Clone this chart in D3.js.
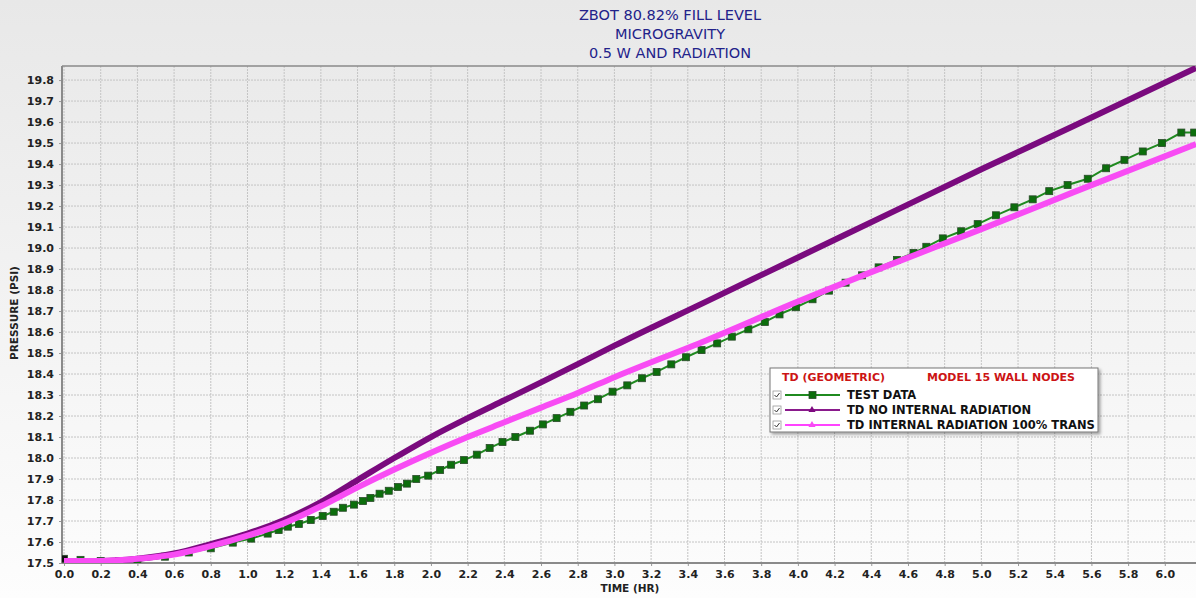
<!DOCTYPE html>
<html>
<head>
	<title>ZBOT pressure</title>
	<script type="text/javascript" src="https://cdnjs.cloudflare.com/ajax/libs/d3/7.8.5/d3.min.js"></script>
	<style>
		body { margin: 0; overflow: hidden; }
		text { font-family: "DejaVu Sans", Verdana, sans-serif; }
	</style>
</head>
<body>
	<svg id="chart" width="1196" height="598"></svg>
	<script type="text/javascript">
		// data
		var titleLines = ["ZBOT 80.82% FILL LEVEL", "MICROGRAVITY", "0.5 W AND RADIATION"];

		var testTime = [0.0, 0.09, 0.2, 0.3, 0.4, 0.55, 0.68, 0.8, 0.92, 1.02, 1.11, 1.17, 1.22, 1.28, 1.345, 1.41, 1.47, 1.52, 1.58, 1.63, 1.67, 1.72, 1.77, 1.82, 1.87, 1.92, 1.985, 2.05, 2.11, 2.18, 2.25, 2.32, 2.39, 2.46, 2.54, 2.61, 2.685, 2.76, 2.835, 2.91, 2.99, 3.07, 3.15, 3.23, 3.31, 3.39, 3.475, 3.56, 3.64, 3.73, 3.82, 3.90, 3.99, 4.08, 4.17, 4.26, 4.35, 4.44, 4.54, 4.63, 4.70, 4.79, 4.89, 4.98, 5.08, 5.18, 5.28, 5.37, 5.47, 5.58, 5.68, 5.78, 5.88, 5.985, 6.09, 6.16];
		var testPsi = [17.52, 17.515, 17.51, 17.51, 17.51, 17.53, 17.55, 17.57, 17.597, 17.616, 17.64, 17.657, 17.673, 17.686, 17.705, 17.724, 17.744, 17.763, 17.778, 17.795, 17.81, 17.83, 17.844, 17.862, 17.878, 17.90, 17.916, 17.943, 17.968, 17.99, 18.016, 18.048, 18.076, 18.10, 18.13, 18.16, 18.19, 18.22, 18.25, 18.28, 18.316, 18.346, 18.38, 18.41, 18.446, 18.48, 18.514, 18.546, 18.578, 18.613, 18.648, 18.684, 18.718, 18.756, 18.797, 18.835, 18.87, 18.908, 18.943, 18.977, 19.006, 19.046, 19.08, 19.114, 19.156, 19.194, 19.232, 19.271, 19.30, 19.33, 19.38, 19.42, 19.46, 19.50, 19.55, 19.55];

		var tdTime = [0.0, 0.2, 0.4, 0.6, 0.8, 1.0, 1.2, 1.4, 1.6, 1.8, 2.0, 2.2, 2.4, 2.6, 2.8, 3.0, 3.5, 4.0, 4.5, 5.0, 5.5, 6.17];
		var noRadPsi = [17.51, 17.51, 17.52, 17.545, 17.59, 17.64, 17.705, 17.79, 17.895, 18.0, 18.1, 18.19, 18.275, 18.36, 18.447, 18.535, 18.745, 18.955, 19.165, 19.375, 19.58, 19.858];
		var radPsi = [17.51, 17.51, 17.52, 17.54, 17.58, 17.63, 17.69, 17.77, 17.86, 17.945, 18.025, 18.1, 18.17, 18.24, 18.31, 18.385, 18.56, 18.745, 18.92, 19.09, 19.265, 19.495];

		var xTicks = d3.range(0, 31).map(function (i) { return i * 0.2; });
		var yTicks = d3.range(0, 24).map(function (i) { return 17.5 + i * 0.1; });

		var svg = d3.select("#chart");
		var W = 1196, H = 598;
		var pLeft = 62, pRight = 1196, pTop = 66, pBottom = 563;

		var defs = svg.append("defs");
		var bg = defs.append("linearGradient").attr("id", "bg")
			.attr("x1", 0).attr("y1", 0).attr("x2", 0).attr("y2", 1);
		bg.append("stop").attr("offset", "0%").attr("stop-color", "#e8e8e8");
		bg.append("stop").attr("offset", "100%").attr("stop-color", "#fdfdfd");
		defs.append("clipPath").attr("id", "plotClip")
			.append("rect").attr("x", pLeft).attr("y", pTop).attr("width", pRight - pLeft).attr("height", pBottom - pTop);
		var shadow = defs.append("filter").attr("id", "shadow");
		shadow.append("feDropShadow").attr("dx", 2).attr("dy", 2).attr("stdDeviation", 1.5).attr("flood-opacity", 0.35);

		svg.append("rect").attr("width", W).attr("height", H).attr("fill", "url(#bg)");

		var x = d3.scaleLinear().domain([-0.011, 6.17]).range([pLeft, pRight]);
		var y = d3.scaleLinear().domain([17.5, 19.867]).range([pBottom, pTop]);

		// title
		titleLines.forEach(function (t, i) {
			svg.append("text")
				.attr("x", 670).attr("y", 20 + i * 19)
				.attr("text-anchor", "middle")
				.attr("font-size", 14.5)
				.attr("fill", "#22228a")
				.text(t);
		});

		// grid
		var grid = svg.append("g");
		xTicks.forEach(function (t) {
			grid.append("line")
				.attr("x1", x(t)).attr("x2", x(t)).attr("y1", pTop).attr("y2", pBottom)
				.attr("stroke", "#c4c4c4").attr("stroke-width", 1).attr("stroke-dasharray", "2,1");
		});
		yTicks.forEach(function (v) {
			grid.append("line")
				.attr("x1", pLeft).attr("x2", pRight).attr("y1", y(v)).attr("y2", y(v))
				.attr("stroke", "#c4c4c4").attr("stroke-width", 1).attr("stroke-dasharray", "2,1");
		});

		// axes
		var xAxis = svg.append("g").attr("transform", "translate(0," + pBottom + ")")
			.call(d3.axisBottom(x).tickValues(xTicks).tickFormat(d3.format(".1f")).tickSize(3).tickPadding(4));
		var yAxis = svg.append("g").attr("transform", "translate(" + pLeft + ",0)")
			.call(d3.axisLeft(y).tickValues(yTicks).tickFormat(d3.format(".1f")).tickSize(3).tickPadding(5));
		[xAxis, yAxis].forEach(function (a) {
			a.select(".domain").remove();
			a.selectAll(".tick line").attr("stroke", "#999");
			a.selectAll(".tick text")
				.attr("font-family", "DejaVu Sans, sans-serif")
				.attr("font-size", 11).attr("font-weight", "bold").attr("fill", "#222");
		});
		svg.append("line").attr("x1", pLeft).attr("x2", pRight).attr("y1", pTop).attr("y2", pTop)
			.attr("stroke", "#8a8a8a").attr("stroke-width", 1.5);
		svg.append("line").attr("x1", pLeft).attr("x2", pLeft).attr("y1", pTop).attr("y2", pBottom)
			.attr("stroke", "#8a8a8a").attr("stroke-width", 2);
		svg.append("line").attr("x1", pLeft).attr("x2", pRight).attr("y1", pBottom).attr("y2", pBottom)
			.attr("stroke", "#8a8a8a").attr("stroke-width", 2);

		svg.append("text")
			.attr("transform", "translate(18,313) rotate(-90)")
			.attr("text-anchor", "middle").attr("font-size", 10.5).attr("font-weight", "bold").attr("fill", "#222")
			.text("PRESSURE (PSI)");
		svg.append("text")
			.attr("x", 630).attr("y", 592)
			.attr("text-anchor", "middle").attr("font-size", 10.5).attr("font-weight", "bold").attr("fill", "#222")
			.text("TIME (HR)");

		// series
		var plot = svg.append("g").attr("clip-path", "url(#plotClip)");
		var line = d3.line().x(function (d) { return x(d[0]); }).y(function (d) { return y(d[1]); });
		var smooth = d3.line().curve(d3.curveMonotoneX).x(function (d) { return x(d[0]); }).y(function (d) { return y(d[1]); });

		var testData = d3.zip(testTime, testPsi);
		plot.append("path").datum(testData).attr("d", line)
			.attr("fill", "none").attr("stroke", "#1f8a1f").attr("stroke-width", 2);
		plot.selectAll(".sq").data(testData).enter().append("rect")
			.attr("x", function (d) { return x(d[0]) - 3.5; })
			.attr("y", function (d) { return y(d[1]) - 3.5; })
			.attr("width", 7).attr("height", 7)
			.attr("fill", function (d, i) { return i == 0 ? "#111" : "#0c6e0c"; })
			.attr("stroke", "#2a4a2a").attr("stroke-width", 0.8);

		plot.append("path").datum(d3.zip(tdTime, noRadPsi)).attr("d", smooth)
			.attr("fill", "none").attr("stroke", "#7a0a7e").attr("stroke-width", 6);
		plot.append("path").datum(d3.zip(tdTime, radPsi)).attr("d", smooth)
			.attr("fill", "none").attr("stroke", "#f84cf4").attr("stroke-width", 6);

		// legend
		var lg = svg.append("g").attr("transform", "translate(770,368)");
		lg.append("rect").attr("width", 328).attr("height", 64)
			.attr("fill", "#fff").attr("stroke", "#777").attr("stroke-width", 1).attr("filter", "url(#shadow)");
		lg.append("text").attr("x", 12).attr("y", 13).attr("font-size", 11).attr("font-weight", "bold")
			.attr("fill", "#cc1414").text("TD (GEOMETRIC)");
		lg.append("text").attr("x", 157).attr("y", 13).attr("font-size", 11).attr("font-weight", "bold")
			.attr("fill", "#cc1414").text("MODEL 15 WALL NODES");

		var legendNames = ["TEST DATA", "TD NO INTERNAL RADIATION", "TD INTERNAL RADIATION 100% TRANS"];
		var legendColors = ["#1f8a1f", "#8a1a8c", "#ff44ff"];
		legendNames.forEach(function (name, i) {
			var ry = 27 + i * 15;
			lg.append("rect").attr("x", 3).attr("y", ry - 4).attr("width", 8).attr("height", 8)
				.attr("fill", "#fff").attr("stroke", "#999").attr("stroke-width", 0.8);
			lg.append("path").attr("d", "M4.5," + ry + " l2,2 l3,-4")
				.attr("fill", "none").attr("stroke", "#333").attr("stroke-width", 1);
			lg.append("line").attr("x1", 15).attr("x2", 70).attr("y1", ry).attr("y2", ry)
				.attr("stroke", legendColors[i]).attr("stroke-width", 2);
			if (i == 0) {
				lg.append("rect").attr("x", 39).attr("y", ry - 3.5).attr("width", 7).attr("height", 7)
					.attr("fill", "#0c6e0c").attr("stroke", "#2a4a2a").attr("stroke-width", 0.8);
			} else {
				lg.append("path").attr("d", d3.symbol().type(d3.symbolTriangle).size(22))
					.attr("transform", "translate(42," + ry + ")")
					.attr("fill", i == 1 ? "#7e0a80" : "#f84cf4");
			}
			lg.append("text").attr("x", 77).attr("y", ry + 4).attr("font-size", 11.5).attr("font-weight", "bold")
				.attr("fill", "#111").text(name);
		});
	</script>
</body>
</html>
